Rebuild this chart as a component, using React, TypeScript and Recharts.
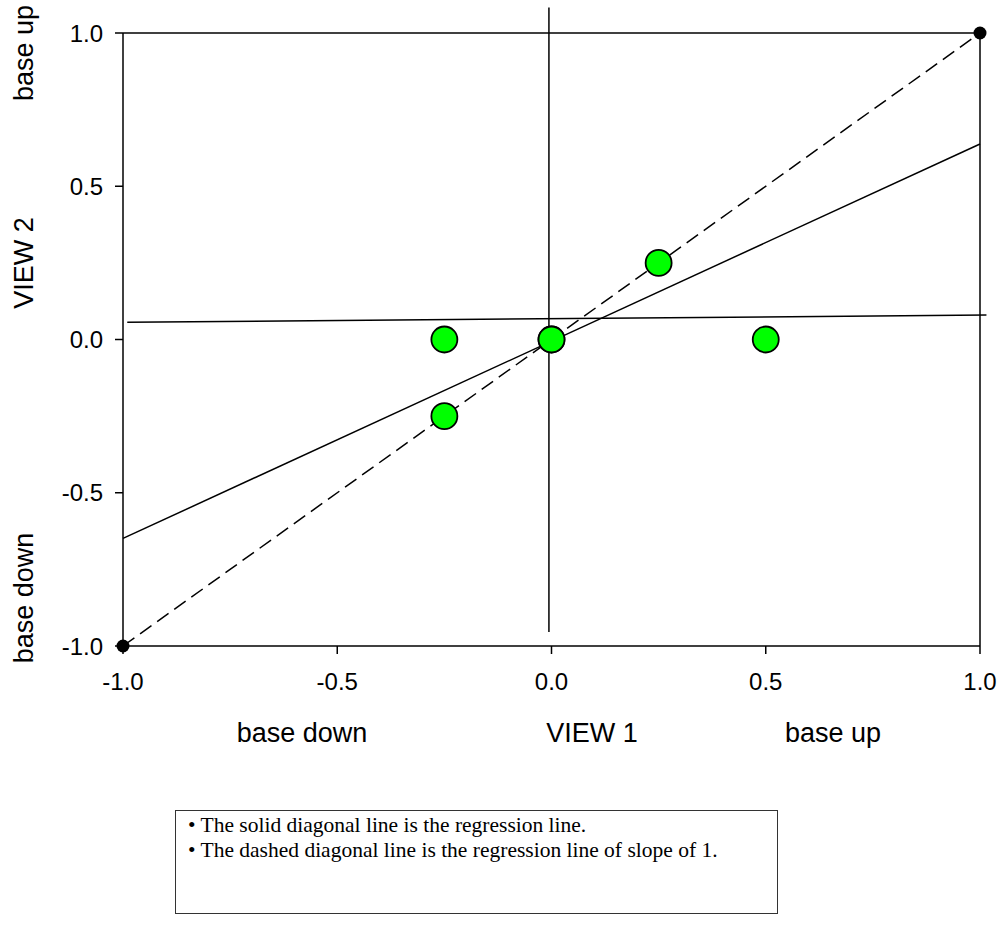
import {
  ScatterChart,
  Scatter,
  XAxis,
  YAxis,
  ReferenceLine,
} from 'recharts';

// tick values on both axes
const axisTicks = [-1, -0.5, 0, 0.5, 1];

// green observation markers (VIEW 1, VIEW 2)
const viewPoints = [
  { x: -0.25, y: 0 },
  { x: 0, y: 0 },
  { x: 0.25, y: 0.25 },
  { x: 0.5, y: 0 },
  { x: -0.25, y: -0.25 },
  { x: 0, y: 0 },
];

// black end markers of the slope 1 line
const cornerPoints = [
  { x: -1, y: -1 },
  { x: 1, y: 1 },
];

const regressionLine = [
  { x: -1, y: -0.649 },
  { x: 1, y: 0.638 },
];
const unitSlopeLine = [
  { x: -1, y: -1 },
  { x: 1, y: 1 },
];
const verticalLine = [
  { x: -0.006, y: 1.083 },
  { x: -0.006, y: -0.954 },
];
const flatLine = [
  { x: -0.99, y: 0.056 },
  { x: 1.015, y: 0.08 },
];

const xTitles = ['base down', 'VIEW 1', 'base up'];
const yTitles = ['base up', 'VIEW 2', 'base down'];
const notes = [
  'The solid diagonal line is the regression line.',
  'The dashed diagonal line is the regression line of slope of 1.',
];

const sans = '"Liberation Sans", Arial, sans-serif';
const tickStyle = { fontSize: 24, fill: '#000', fontFamily: sans };

const GreenDot = (props: any) => (
  <circle cx={props.cx} cy={props.cy} r={13} fill="#00ff00" stroke="#000" strokeWidth={1.8} />
);
const BlackDot = (props: any) => <circle cx={props.cx} cy={props.cy} r={6.5} fill="#000" />;

export default function App() {
  const xTitlePos = [302, 592, 833];
  const yTitlePos = [53, 263, 598];
  return (
    <div style={{ position: 'absolute', left: 0, top: 0, width: 1002, height: 934, background: '#fff' }}>
      <ScatterChart width={1002} height={780} margin={{ top: 33, right: 22, bottom: 0, left: 0 }}>
        <XAxis
          type="number"
          dataKey="x"
          domain={[-1, 1]}
          ticks={axisTicks}
          tickFormatter={(v: number) => v.toFixed(1)}
          height={134}
          stroke="#000"
          strokeWidth={1.5}
          tickSize={8}
          tickMargin={19}
          tick={tickStyle}
        />
        <YAxis
          type="number"
          dataKey="y"
          domain={[-1, 1]}
          ticks={axisTicks}
          tickFormatter={(v: number) => v.toFixed(1)}
          width={123}
          stroke="#000"
          strokeWidth={1.5}
          tickSize={8}
          tickMargin={12}
          tick={tickStyle}
        />
        <ReferenceLine y={1} stroke="#000" strokeWidth={1.5} />
        <ReferenceLine x={1} stroke="#000" strokeWidth={1.5} />
        <Scatter data={viewPoints} shape={GreenDot} isAnimationActive={false} />
        <ReferenceLine segment={verticalLine} stroke="#000" strokeWidth={1.5} ifOverflow="visible" />
        <ReferenceLine segment={flatLine} stroke="#000" strokeWidth={1.5} ifOverflow="visible" />
        <ReferenceLine segment={regressionLine} stroke="#000" strokeWidth={1.5} ifOverflow="visible" />
        <ReferenceLine
          segment={unitSlopeLine}
          stroke="#000"
          strokeWidth={1.5}
          strokeDasharray="14 7"
          ifOverflow="visible"
        />
        <Scatter data={cornerPoints} shape={BlackDot} isAnimationActive={false} />
      </ScatterChart>

      <svg width={1002} height={780} style={{ position: 'absolute', left: 0, top: 0, pointerEvents: 'none' }}>
        {xTitles.map((t, i) => (
          <text key={t} x={xTitlePos[i]} y={742} textAnchor="middle" fontSize={27} fontFamily={sans} fill="#000">
            {t}
          </text>
        ))}
        {yTitles.map((t, i) => (
          <text
            key={t + i}
            x={33}
            y={yTitlePos[i]}
            transform={`rotate(-90 33 ${yTitlePos[i]})`}
            textAnchor="middle"
            fontSize={27}
            fontFamily={sans}
            fill="#000"
          >
            {t}
          </text>
        ))}
      </svg>

      <div
        style={{
          position: 'absolute',
          left: 175,
          top: 810,
          width: 603,
          height: 104,
          boxSizing: 'border-box',
          border: '1px solid #333',
          padding: '2px 0 0 12px',
          fontFamily: '"Liberation Serif", "Times New Roman", serif',
          fontSize: 21.5,
          lineHeight: '25px',
          color: '#000',
        }}
      >
        {notes.map((n) => (
          <div key={n}>• {n}</div>
        ))}
      </div>
    </div>
  );
}
